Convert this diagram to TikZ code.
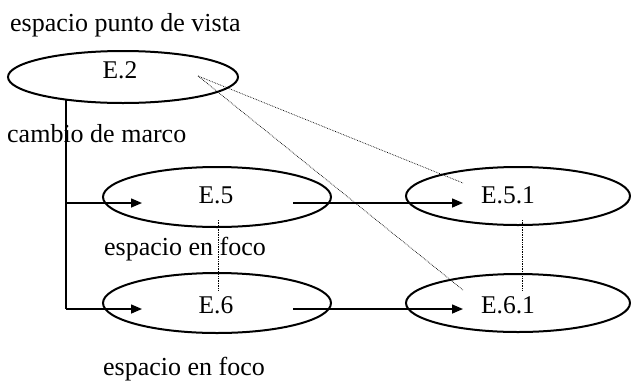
\documentclass[tikz,border=0pt]{standalone}
\usepackage{fontspec}
\setmainfont{Liberation Serif}
\usetikzlibrary{shapes.geometric,arrows.meta}
\begin{document}
\begin{tikzpicture}[x=1pt,y=-1pt,
  ell/.style={draw,ellipse,line width=2pt,inner sep=0pt},
  lbl/.style={inner sep=0pt,anchor=base,font=\fontsize{25.5}{30}\selectfont},
  txt/.style={inner sep=0pt,anchor=base west,font=\fontsize{26}{30}\selectfont},
  arr/.style={line width=1.5pt,-{Triangle[length=11pt,width=9pt]}},
  trunk/.style={line width=1.6pt},
  dots/.style={densely dotted,line width=0.7pt,black}]
\useasboundingbox (0,0) rectangle (631,381);
% ellipses
\node[ell,minimum width=230pt,minimum height=52pt] (e2) at (123,77) {};
\node[ell,minimum width=228pt,minimum height=60pt] (e5) at (217,197) {};
\node[ell,minimum width=228pt,minimum height=60pt] (e6) at (217,303) {};
\node[ell,minimum width=224pt,minimum height=58pt] (e51) at (518,196) {};
\node[ell,minimum width=224pt,minimum height=58pt] (e61) at (518,303) {};
% labels
\node[lbl] (t2) at (120,78) {E.2};
\node[lbl] (t5) at (216,203) {E.5};
\node[lbl] (t6) at (216,313) {E.6};
\node[lbl] (t51) at (508,203) {E.5.1};
\node[lbl] (t61) at (508,313) {E.6.1};
% texts
\node[txt] (s1) at (10,31) {espacio punto de vista};
\node[txt] (s2) at (7,142) {cambio de marco};
\node[txt] (s3) at (104,255) {espacio en foco};
\node[txt] (s4) at (103,375) {espacio en foco};
% connector coordinates
\coordinate (trtop) at (66,100);
\coordinate (br5) at (66,203);
\coordinate (br6) at (66,309);
\coordinate (tip5) at (142,203);
\coordinate (tip6) at (142,309);
\coordinate (a5s) at (293,203);
\coordinate (a5e) at (463,203);
\coordinate (a6s) at (293,309);
\coordinate (a6e) at (463,309);
\coordinate (d2) at (198,76);
\coordinate (d51) at (463,183);
\coordinate (d61) at (463,290);
\coordinate (v5a) at (218,220);
\coordinate (v5b) at (218,290);
\coordinate (v51a) at (522,220);
\coordinate (v51b) at (522,290);
% trunk and arrows
\draw[trunk] (trtop) -- (br6);
\draw[arr] (br5) -- (tip5);
\draw[arr] (br6) -- (tip6);
\draw[arr] (a5s) -- (a5e);
\draw[arr] (a6s) -- (a6e);
% dotted
\draw[dots] (d2) -- (d51);
\draw[dots] (d2) -- (d61);
\draw[dots] (v5a) -- (v5b);
\draw[dots] (v51a) -- (v51b);
\end{tikzpicture}
\end{document}
